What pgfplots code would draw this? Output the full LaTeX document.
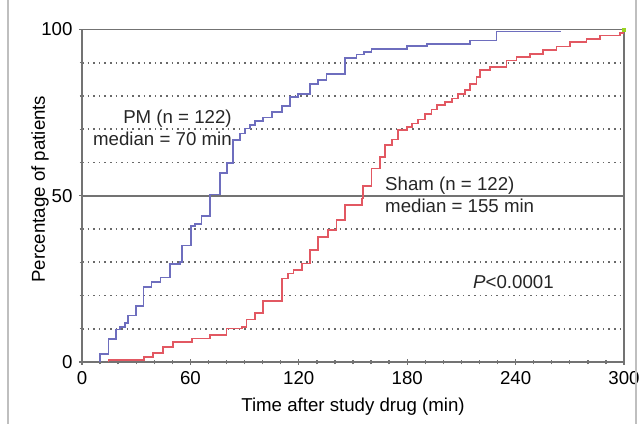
\documentclass[border=0pt]{standalone}
\usepackage{fontspec}
\setmainfont{Liberation Sans}
\usepackage{pgfplots}
\pgfplotsset{compat=1.18}
\definecolor{PMblue}{RGB}{110,110,190}
\definecolor{ShamRed}{RGB}{226,88,98}
\definecolor{axgray}{RGB}{115,115,115}
\definecolor{dotgray}{RGB}{105,105,105}
\begin{document}
\fontsize{14}{16.5}\selectfont
\begin{tikzpicture}
\useasboundingbox (-61.5pt,-46.5pt) rectangle (418.5pt,271.5pt);
\begin{axis}[
  at={(0,0)}, anchor=south west,
  scale only axis, width=406.5pt, height=249.4pt,
  xmin=0, xmax=300, ymin=0, ymax=100,
  xtick={0,60,...,300}, minor xtick={10,20,...,290},
  ytick={0,50,100}, minor ytick={10,20,30,40,60,70,80,90},
  ymajorgrids, yminorgrids,
  major grid style={axgray, line width=1.4pt},
  minor grid style={dotgray, line width=1.2pt, dash pattern=on 1.2pt off 3pt},
  axis line style={axgray, line width=1.4pt},
  tick style={axgray, line width=1pt},
  major tick length=4.5pt, minor tick length=3.5pt,
  tick align=center,
  xtick pos=bottom, ytick pos=left,
  /pgf/number format/assume math mode=true,
  tick label style={font=\fontsize{14}{16.5}\selectfont},
  label style={font=\fontsize{14}{16.5}\selectfont},
  xlabel={Time after study drug (min)},
  ylabel={Percentage of patients},
  xlabel style={at={(axis description cs:0.5,-0.135)}, anchor=center},
  ylabel style={at={(axis description cs:-0.0775,0.52)}, anchor=center},
  clip=false,
]
\addplot[const plot, PMblue, line width=1.3pt] coordinates {
(10,0) (10,2.4) (14.6,7) (18.8,9.8) (21,10.5) (24,11.8) (25.6,14) (29.7,16.8)
(34,22.6) (38.5,24) (43.5,25.4) (48.7,29.4) (54.2,30) (55.2,35) (60.5,40.8)
(62.5,41.6) (66.2,44) (70.8,50.4) (76.4,56.9) (80.4,59.8) (83.7,66.7) (87.4,68.7)
(90.2,70.2) (93,71.2) (95.7,72.5) (100.3,73.5) (105,75.2) (110.5,76.9) (115.1,79.7)
(119.7,80.7) (126.2,83.7) (130.8,84.9) (135.4,86.5) (145.5,91.5) (152,92.5)
(156,93.3) (160.3,94.2) (179.7,95) (190.8,95.7) (214.7,96.7) (229.5,99.4) (265,99.4)
};
\addplot[const plot, ShamRed, line width=1.3pt] coordinates {
(14.6,0) (14.6,0.5) (34.5,1.6) (39.5,2.8) (45,4.6) (50.5,6.1) (60.7,7.1) (70.8,8.1)
(80,10.1) (88.4,10.6) (91.1,12.8) (95.7,14.8) (100.3,18.3) (110.5,25.1) (114.2,26.6)
(117,27.6) (121.6,29.6) (126.2,33.6) (130.8,37.6) (136.3,39.6) (140.9,42.6)
(145.5,47.3) (154.8,49.2) (155.7,53) (160.3,58.2) (165,61.7) (167.7,65.2)
(171.4,66.9) (175,69.7) (179.7,70.7) (182.5,71.7) (186.1,72.9) (189.8,74.5)
(193.5,75.9) (196.3,77.2) (200.9,78.2) (204.6,79.2) (208.3,80.7) (212,81.7)
(214.7,83.7) (218.4,85.7) (220.3,87.7) (225.8,88.7) (235,90.7) (240.5,91.7)
(248,92.7) (255.3,93.9) (262.7,94.9) (270,96.2) (279.3,97.2) (286.7,98.2)
(297.7,98.9) (300,98.9)
};
\addplot[only marks, mark=square*, mark size=1.2pt, color=yellow!60!green] coordinates {(300,100)};
\node[align=right, anchor=east, inner sep=0pt, text=black!85] at (axis cs:83,70.3) {PM (n = 122)\\median = 70 min};
\node[align=left, anchor=west, inner sep=0pt, text=black!85] at (axis cs:167.7,50.2) {Sham (n = 122)\\median = 155 min};
\node[anchor=west, inner sep=0pt, text=black!85] at (axis cs:216.4,24.1) {\textit{P}<0.0001};
\end{axis}
\draw[gray!50, line width=0.8pt] (-55.5pt,-46.5pt) -- (-55.5pt,271.5pt);
\draw[gray!50, line width=0.8pt] (415.5pt,-46.5pt) -- (415.5pt,271.5pt);
\end{tikzpicture}
\end{document}
